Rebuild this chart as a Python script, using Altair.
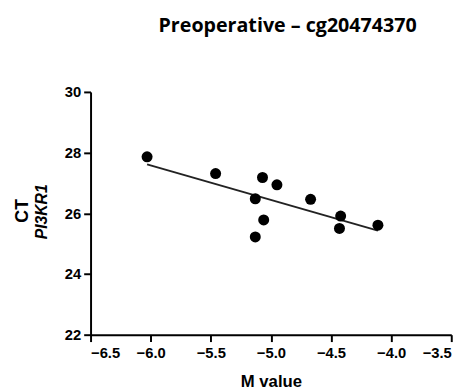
import altair as alt
import pandas as pd

m_value = [-6.03, -5.46, -5.07, -4.95, -5.13, -4.67, -5.06, -5.13, -4.42, -4.43, -4.11]
ct_value = [27.86, 27.31, 27.18, 26.94, 26.48, 26.46, 25.78, 25.22, 25.91, 25.50, 25.61]
x_ticks = [-6.5, -6.0, -5.5, -5.0, -4.5, -4.0, -3.5]
y_ticks = [22, 24, 26, 28, 30]
title_text = "Preoperative – cg20474370"
x_title = "M value"
y_title_1 = ["CT"]
y_title_2 = ["PI3KR1"]

df = pd.DataFrame({"m": m_value, "ct": ct_value})

W, H = 367, 247

xenc = alt.X("m:Q", scale=alt.Scale(domain=[-6.5, -3.5], nice=False, zero=False),
             axis=alt.Axis(values=x_ticks, format=".1f", title=x_title, grid=False,
                           domainWidth=2, domainColor="black", tickWidth=2, tickColor="black",
                           tickSize=7, labelPadding=4, labelFont="Liberation Sans",
                           labelFontWeight="bold", labelFontSize=15, labelColor="black",
                           titleFont="Liberation Sans", titleFontWeight="bold", titleFontSize=17,
                           titleColor="black", titlePadding=14))
yenc = alt.Y("ct:Q", scale=alt.Scale(domain=[22, 30], nice=False, zero=False),
             axis=alt.Axis(values=y_ticks, format="d", title=None, grid=False,
                           domainWidth=2, domainColor="black", tickWidth=2, tickColor="black",
                           tickSize=7, labelPadding=3, labelFont="Liberation Sans",
                           labelFontWeight="bold", labelFontSize=15, labelColor="black"))

points = alt.Chart(df).mark_point(filled=True, size=125, color="black", opacity=1).encode(x=xenc, y=yenc)
line = alt.Chart(df).transform_regression("m", "ct").mark_line(color="#222", strokeWidth=2).encode(
    x="m:Q", y="ct:Q")

t1 = alt.Chart(pd.DataFrame({"t": y_title_1})).mark_text(
    angle=270, font="Liberation Sans", fontWeight="bold", fontSize=18, color="black",
    baseline="middle", align="center").encode(text="t:N", x=alt.value(-69), y=alt.value(121))
t2 = alt.Chart(pd.DataFrame({"t": y_title_2})).mark_text(
    angle=270, font="Liberation Sans", fontWeight="bold", fontStyle="italic", fontSize=16,
    color="black", baseline="middle", align="center").encode(text="t:N", x=alt.value(-49), y=alt.value(122))

chart = alt.layer(line, points, t1, t2).properties(
    width=W, height=H,
    title=alt.TitleParams(title_text, font="Open Sans", fontWeight="bold", fontSize=20, color="black",
                          anchor="middle", dx=17, offset=50),
    autosize=alt.AutoSizeParams(type="none"),
    padding={"left": 84, "top": 82, "right": 16, "bottom": 60},
).configure_view(stroke=None)

chart.save("out.html", embed_options={"renderer": "svg", "actions": False})
